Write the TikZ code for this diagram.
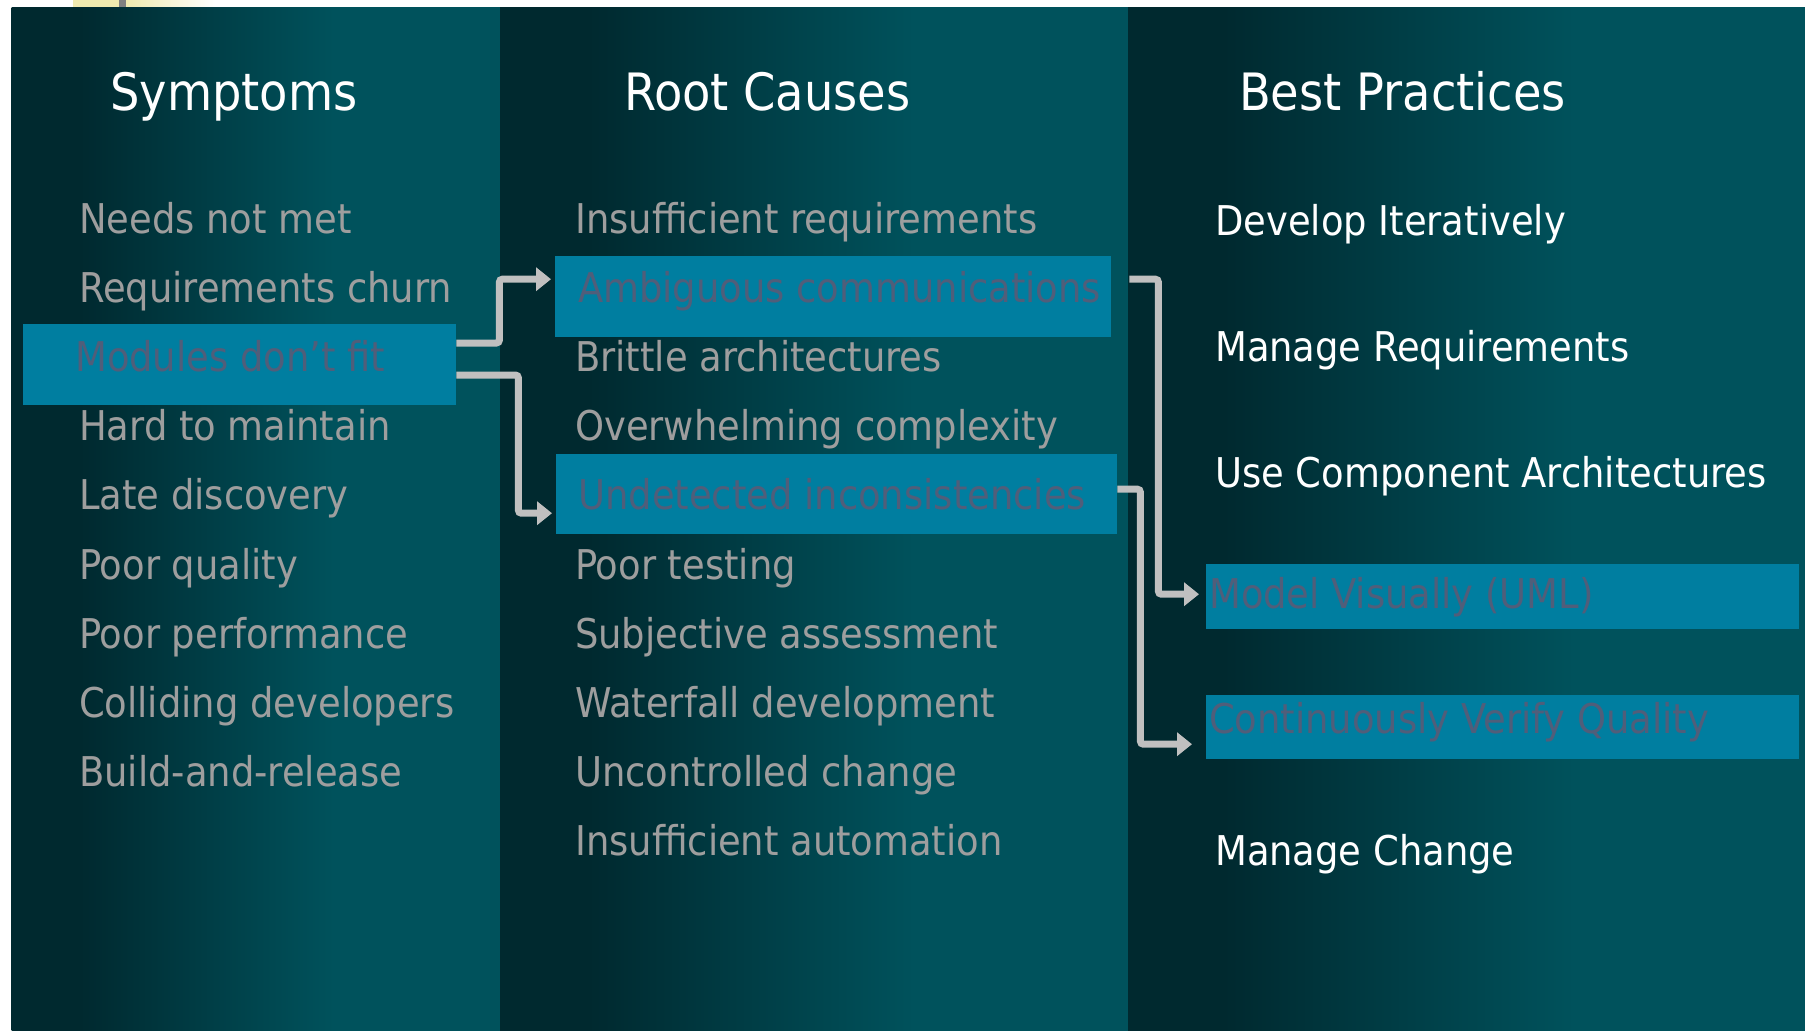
\documentclass[tikz,border=0pt]{standalone}
\usepackage{fontspec}
\setmainfont{DejaVu Sans Condensed}
\usetikzlibrary{arrows.meta}

\definecolor{paneldark}{RGB}{0,41,47}
\definecolor{panelteal}{RGB}{0,82,92}
\definecolor{hifill}{RGB}{0,126,160}
\definecolor{hitext}{RGB}{80,94,122}
\definecolor{itemgray}{RGB}{158,158,158}
\definecolor{linegray}{RGB}{192,192,192}
\definecolor{paleyellow}{RGB}{240,234,176}

\pgfdeclarehorizontalshading{panelshade}{100bp}{color(0bp)=(paneldark); color(32bp)=(paneldark); color(58bp)=(panelteal); color(100bp)=(panelteal)}

\tikzset{
  head/.style={anchor=base west, inner sep=0pt, text=white, font=\fontsize{51.5}{60}\selectfont},
  item/.style={anchor=base west, inner sep=0pt, text=itemgray, font=\fontsize{41}{48}\selectfont},
  hitem/.style={item, text=hitext},
  practice/.style={item, text=white},
  hibox/.style={anchor=north west, inner sep=0pt, fill=hifill},
  conn/.style={draw=linegray, line width=7pt, rounded corners=3pt, -{Triangle[length=15pt,width=23pt]}}
}

\begin{document}
\begin{tikzpicture}[x=1pt,y=-1pt]
	\useasboundingbox (0,0) rectangle (1805,1031);
	\fill[white] (0,0) rectangle (1805,1031);
	% strip at the top
	\fill[paleyellow] (73,0) rectangle (119,7);
	\fill[gray] (119,0) rectangle (126,7);
	\shade[left color=paleyellow, right color=white] (126,0) rectangle (215,7);
	% three columns
	\shade[shading=panelshade] (11.5,7) rectangle (500,1031);
	\shade[shading=panelshade] (500,7) rectangle (1128,1031);
	\shade[shading=panelshade] (1128,7) rectangle (1805,1031);

	\node[head] (hsym) at (110,110) {Symptoms};
	\node[head] (hroot) at (624,110) {Root Causes};
	\node[head] (hbest) at (1239,110) {Best Practices};

	% highlighted rows
	\node[hibox, minimum width=433pt, minimum height=81pt] (modules) at (23,324) {};
	\node[hibox, minimum width=556pt, minimum height=81pt] (ambig) at (555,256) {};
	\node[hibox, minimum width=561pt, minimum height=80pt] (undet) at (556,454) {};
	\node[hibox, minimum width=593pt, minimum height=65pt] (model) at (1206,564) {};
	\node[hibox, minimum width=593pt, minimum height=64pt] (contin) at (1206,695) {};

	\node[item] (s1) at (79,233) {Needs not met};
	\node[item] (s2) at (79,302) {Requirements churn};
	\node[hitem] (s3) at (75,371) {Modules don’t fit};
	\node[item] (s4) at (79,440) {Hard to maintain};
	\node[item] (s5) at (79,509) {Late discovery};
	\node[item] (s6) at (79,579) {Poor quality};
	\node[item] (s7) at (79,648) {Poor performance};
	\node[item] (s8) at (79,717) {Colliding developers};
	\node[item] (s9) at (79,786) {Build-and-release};

	\node[item] (r1) at (575,233) {Insufficient requirements};
	\node[hitem] (r2) at (578,302) {Ambiguous communications};
	\node[item] (r3) at (575,371) {Brittle architectures};
	\node[item] (r4) at (575,440) {Overwhelming complexity};
	\node[hitem] (r5) at (578,509) {Undetected inconsistencies};
	\node[item] (r6) at (575,579) {Poor testing};
	\node[item] (r7) at (575,648) {Subjective assessment};
	\node[item] (r8) at (575,717) {Waterfall development};
	\node[item] (r9) at (575,786) {Uncontrolled change};
	\node[item] (r10) at (575,855) {Insufficient automation};

	\node[practice] (b1) at (1215,235) {Develop Iteratively};
	\node[practice] (b2) at (1215,361) {Manage Requirements};
	\node[practice] (b3) at (1215,487) {Use Component Architectures};
	\node[hitem] (b4) at (1209,608) {Model Visually (UML)};
	\node[hitem] (b5) at (1209,733) {Continuously Verify Quality};
	\node[practice] (b6) at (1215,865) {Manage Change};

	\draw[conn] ([yshift=-19pt]modules.north east) -- ++(43,0) |- ([xshift=-4pt,yshift=17.5pt]ambig.west);
	\draw[conn] ([yshift=-51pt]modules.north east) -- ++(62,0) |- ([xshift=-4pt,yshift=-19pt]undet.west);
	\draw[conn] ([xshift=18pt,yshift=17.5pt]ambig.east) -- ++(29,0) |- ([xshift=-7pt,yshift=2.5pt]model.west);
	\draw[conn] ([yshift=5pt]undet.east) -- ++(23,0) |- ([xshift=-14pt,yshift=-17pt]contin.west);
\end{tikzpicture}
\end{document}
